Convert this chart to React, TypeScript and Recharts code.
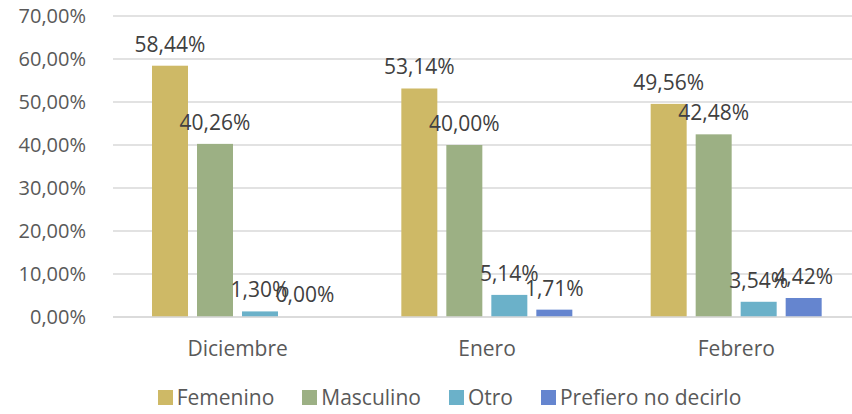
import * as React from "react"
import { BarChart, Bar, XAxis, YAxis, CartesianGrid, Legend, LabelList } from "recharts"

const months = ["Diciembre", "Enero", "Febrero"]
const femenino = [58.44, 53.14, 49.56]
const masculino = [40.26, 40.0, 42.48]
const otro = [1.3, 5.14, 3.54]
const prefiero = [0.0, 1.71, 4.42]
const yTicks = [0, 10, 20, 30, 40, 50, 60, 70]

const series = [
  { key: "femenino", name: "Femenino", color: "#CEB966" },
  { key: "masculino", name: "Masculino", color: "#9CB084" },
  { key: "otro", name: "Otro", color: "#6BB1C9" },
  { key: "prefiero", name: "Prefiero no decirlo", color: "#6585CF" },
]

const FONT = "'Open Sans', sans-serif"
const pct = (v: any) => `${Number(v).toFixed(2).replace(".", ",")}%`

function LegendContent() {
  return (
    <div style={{ display: "flex", justifyContent: "center", alignItems: "center", fontFamily: FONT, fontSize: 21, color: "#595959", lineHeight: "29px", paddingLeft: 38 }}>
      {series.map((s, i) => (
        <div key={s.key} style={{ display: "flex", alignItems: "center", marginLeft: i === 0 ? 0 : 28 }}>
          <div style={{ width: 15, height: 15, background: s.color, marginRight: 4 }} />
          <span>{s.name}</span>
        </div>
      ))}
    </div>
  )
}

// zero-valued bars draw nothing but keep their label
function makeShape(key: string) {
  return (p: any) => {
    if (p.payload && p.payload[key] === 0) return <g />
    return <rect x={p.x} y={p.y} width={p.width} height={p.height} fill={p.fill} />
  }
}

export default function App() {
  const data = months.map((m, i) => ({
    month: m,
    femenino: femenino[i],
    masculino: masculino[i],
    otro: otro[i],
    prefiero: prefiero[i],
  }))

  // the original plot runs a little past the right edge of the picture
  return (
    <div style={{ position: "absolute", left: 0, top: 0, width: 852, height: 414, background: "#fff", overflow: "hidden" }}>
      <BarChart
        width={861}
        height={414}
        data={data}
        margin={{ top: 16, right: 0, bottom: 2, left: 0 }}
        barCategoryGap={39}
        barGap={9}
      >
        <CartesianGrid vertical={false} stroke="#D9D9D9" strokeWidth={1.5} />
        <XAxis
          dataKey="month"
          axisLine={{ stroke: "#D9D9D9", strokeWidth: 1.5 }}
          tickLine={false}
          height={66}
          tickMargin={18}
          tick={{ fill: "#595959", fontSize: 21, fontFamily: FONT }}
        />
        <YAxis
          width={113}
          domain={[0, 70]}
          ticks={yTicks}
          interval={0}
          axisLine={false}
          tickLine={false}
          tickFormatter={pct}
          tickMargin={21}
          tick={{ fill: "#595959", fontSize: 20, fontFamily: FONT }}
        />
        <Legend verticalAlign="bottom" content={<LegendContent />} />
        {series.map((s) => (
          <Bar
            key={s.key}
            dataKey={s.key}
            name={s.name}
            fill={s.color}
            minPointSize={1}
            shape={makeShape(s.key)}
            isAnimationActive={false}
          >
            <LabelList
              dataKey={s.key}
              position="top"
              offset={14}
              formatter={pct}
              style={{ fill: "#404040", fontSize: 21, fontFamily: FONT }}
            />
          </Bar>
        ))}
      </BarChart>
    </div>
  )
}
